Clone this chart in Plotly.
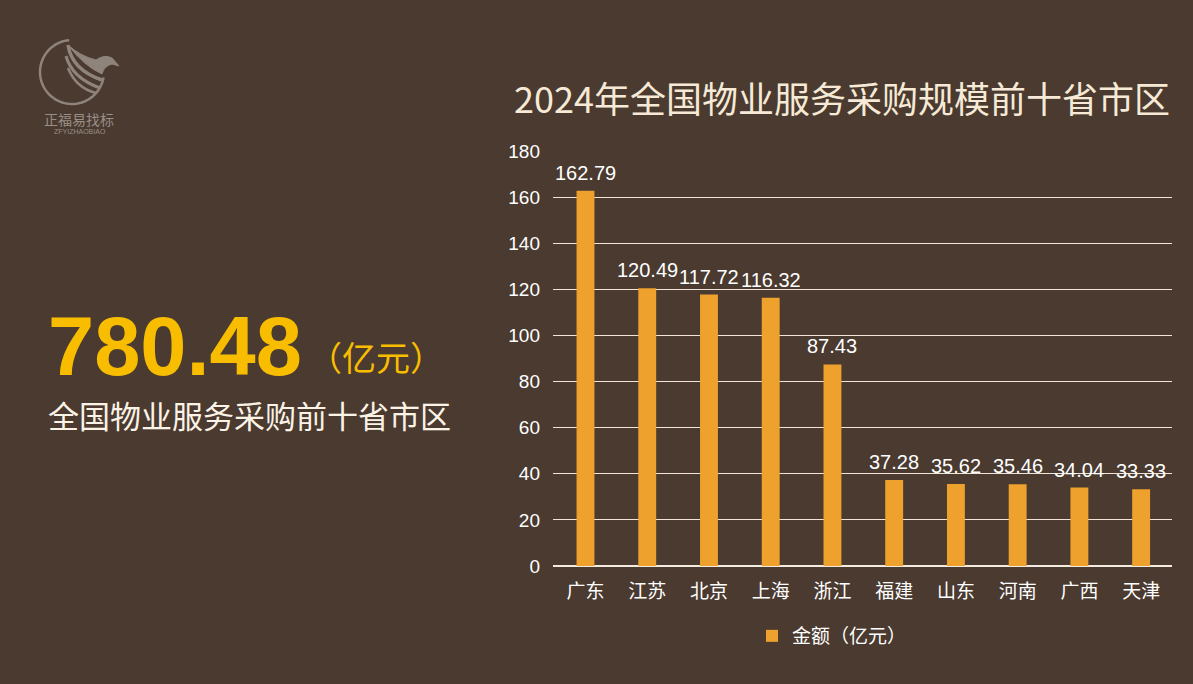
import plotly.graph_objects as go
import math

categories = ["广东", "江苏", "北京", "上海", "浙江", "福建", "山东", "河南", "广西", "天津"]
values = [162.79, 120.49, 117.72, 116.32, 87.43, 37.28, 35.62, 35.46, 34.04, 33.33]
y_ticks = [0, 20, 40, 60, 80, 100, 120, 140, 160, 180]
series_name = "金额（亿元）"
title_text = "2024年全国物业服务采购规模前十省市区"
total_text = "780.48"
unit_text = "（亿元）"
subtitle_text = "全国物业服务采购前十省市区"

W, H = 1193, 684
L, R, T, B = 553, 21, 151, 118
PW, PH = W - L - R, H - T - B

def px(x):
    return (x - L) / PW

def py(y):
    return (H - B - y) / PH

def pt(x, y):
    return f"{px(x):.5f},{py(y):.5f}"

BG = "#4a3a30"
BAR = "#eea12c"
GOLD = "#f9bd00"
LOGO = "#8f847c"
CJK = "Noto Sans CJK SC, Liberation Sans, sans-serif"
LAT = "Liberation Sans, Arial, Noto Sans CJK SC, sans-serif"

fig = go.Figure()
fig.add_trace(go.Bar(
    x=categories, y=values, name=series_name,
    marker=dict(color=BAR, line=dict(width=0)),
    width=0.29,
    cliponaxis=False,
    showlegend=True,
))

annotations = [
    dict(text=f"{v:.2f}", x=c, y=v, xref="x", yref="y", showarrow=False,
         xanchor="center", yanchor="bottom", yshift=5,
         font=dict(size=20, color="#ffffff", family=LAT))
    for c, v in zip(categories, values)
]

annotations += [
    dict(text=title_text, x=px(842), y=py(97), xref="paper", yref="paper",
         showarrow=False, xanchor="center", yanchor="middle",
         font=dict(size=36, color="#f6ead6", family=CJK)),
    dict(text=f"<b>{total_text}</b>", x=px(46), y=py(346), xref="paper", yref="paper",
         showarrow=False, xanchor="left", yanchor="middle",
         font=dict(size=83, color=GOLD, family=LAT)),
    dict(text=unit_text, x=px(306), y=py(356), xref="paper", yref="paper",
         showarrow=False, xanchor="left", yanchor="middle",
         font=dict(size=34, color=GOLD, family=CJK)),
    dict(text=subtitle_text, x=px(46), y=py(414), xref="paper", yref="paper",
         showarrow=False, xanchor="left", yanchor="middle",
         font=dict(size=31, color="#fbf3e6", family=CJK)),
    dict(text="正福易找标", x=px(79), y=py(119), xref="paper", yref="paper",
         showarrow=False, xanchor="center", yanchor="middle",
         font=dict(size=14, color="#9a8f87", family=CJK)),
    dict(text="ZFYIZHAOBIAO", x=px(80), y=py(131), xref="paper", yref="paper",
         showarrow=False, xanchor="center", yanchor="middle",
         font=dict(size=7, color="#9a8f87", family=LAT)),
]

# logo circle arc (open at upper right)
cx, cy, r = 72, 72, 32
pts = []
for i in range(0, 61):
    a = math.radians(95 + i * (255 / 60))
    pts.append((cx + r * math.cos(a), cy - r * math.sin(a)))
path = "M " + " L ".join(pt(x, y) for x, y in pts)
shapes = [dict(type="path", path=path, xref="paper", yref="paper",
               line=dict(color=LOGO, width=2.5))]
curves = [
    ((68, 45), (72, 70), (102, 80), 3.5),
    ((66, 56), (72, 78), (100, 88), 3),
    ((68, 68), (76, 88), (96, 93), 2.5),
]
for (a, c, b, w) in curves:
    shapes.append(dict(type="path",
                       path=f"M {pt(*a)} Q {pt(*c)} {pt(*b)}",
                       xref="paper", yref="paper",
                       line=dict(color=LOGO, width=w)))
# head
shapes.append(dict(type="path",
                   path=f"M {pt(68,45)} Q {pt(80,56)} {pt(96,60)} Q {pt(104,54)} {pt(112,58)} "
                        f"L {pt(119,66)} L {pt(112,64)} Q {pt(104,66)} {pt(102,74)} "
                        f"Q {pt(84,66)} {pt(68,45)} Z",
                   xref="paper", yref="paper",
                   fillcolor=LOGO, line=dict(color=LOGO, width=1)))

fig.update_layout(
    width=W, height=H, autosize=False,
    margin=dict(l=L, r=R, t=T, b=B),
    paper_bgcolor=BG, plot_bgcolor=BG,
    annotations=annotations, shapes=shapes,
    bargap=0.71,
    xaxis=dict(showgrid=False, showline=False, zeroline=False,
               tickfont=dict(size=19, color="#ffffff", family=CJK),
               ticks="", ticklabelstandoff=12),
    yaxis=dict(range=[0, 180], tickvals=y_ticks, showgrid=True,
               gridcolor="#efe4d6", gridwidth=1, zeroline=True,
               zerolinecolor="#f4ebe0", zerolinewidth=1.5, showline=False,
               tickfont=dict(size=19, color="#ffffff", family=LAT),
               ticks="", ticklabelstandoff=12),
    legend=dict(orientation="h", x=px(752), y=py(636), xanchor="left", yanchor="middle",
                font=dict(size=19, color="#ffffff", family=CJK),
                bgcolor="rgba(0,0,0,0)", itemwidth=30),
    showlegend=True,
)

fig.write_html(
    "out.html",
    config={"displayModeBar": False},
    post_script="document.body.style.margin='0';document.body.style.background='#4a3a30';",
)
